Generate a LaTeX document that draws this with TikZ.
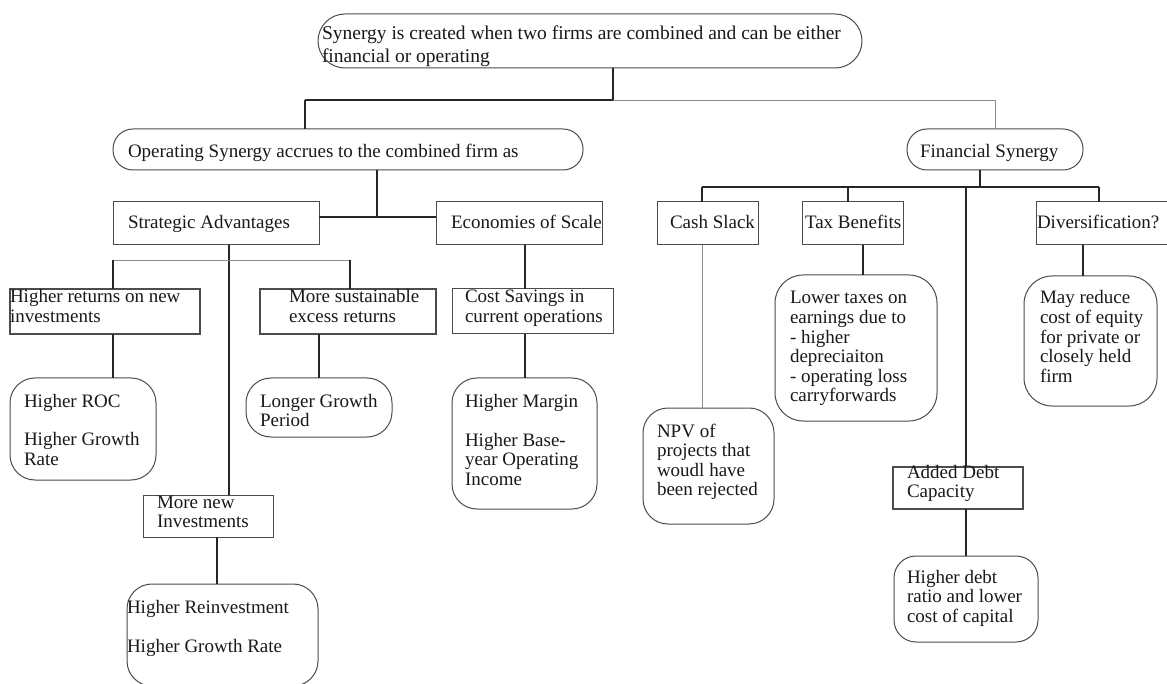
\documentclass[tikz,border=0pt]{standalone}
\usepackage{fontspec}
\setmainfont{Liberation Serif}
\begin{document}
\begin{tikzpicture}[x=1pt,y=-1pt,
  box/.style={draw=black!70,line width=1pt,inner sep=0pt,outer sep=0pt},
  sq/.style={box},
  pill/.style={box,rounded corners=20pt},
  rbox/.style={box,rounded corners=25pt},
  txt/.style={anchor=north west,inner sep=0pt,outer sep=0pt,align=left,
    font=\fontsize{19}{19.5}\selectfont,yshift=13.65pt,text=black!90},
  con/.style={draw=black!85,line width=1.3pt},
  thin/.style={draw=black!45,line width=0.9pt}]
\useasboundingbox (0,0) rectangle (1167,684);
\fill[white] (0,0) rectangle (1167,684);

% ---------- shapes ----------
\node[pill,rounded corners=27pt,minimum width=544pt,minimum height=54pt] (top) at (590,41) {};
\node[pill,minimum width=470pt,minimum height=41pt] (op) at (348,149.5) {};
\node[pill,minimum width=176pt,minimum height=41pt] (fin) at (995,149.5) {};

\node[sq,minimum width=206pt,minimum height=43pt] (sa) at (216,223.5) {};
\node[sq,minimum width=166pt,minimum height=43pt] (es) at (519,223.5) {};
\node[sq,minimum width=101pt,minimum height=43pt] (cash) at (707.5,223.5) {};
\node[sq,minimum width=101pt,minimum height=43pt] (tax) at (852.5,223.5) {};
\node[sq,minimum width=134pt,minimum height=43pt] (div) at (1103,223.5) {};

\node[sq,line width=1.4pt,minimum width=190pt,minimum height=45pt] (hr) at (105,311.5) {};
\node[sq,line width=1.4pt,minimum width=176pt,minimum height=45pt] (ms) at (348,311.5) {};
\node[sq,minimum width=161pt,minimum height=45pt] (cs) at (532.5,311.5) {};

\node[rbox,minimum width=146pt,minimum height=102pt] (roc) at (83,429) {};
\node[rbox,minimum width=146pt,minimum height=59pt] (lg) at (319,407.5) {};
\node[rbox,minimum width=145pt,minimum height=131pt] (hm) at (524.5,443.5) {};
\node[sq,minimum width=130pt,minimum height=42pt] (mn) at (208,516) {};
\node[rbox,minimum width=191pt,minimum height=102pt] (ri) at (222.5,635) {};

\node[rbox,minimum width=131pt,minimum height=116pt] (npv) at (708.5,466) {};
\node[rbox,rounded corners=28pt,minimum width=162pt,minimum height=146pt] (lt) at (856,348) {};
\node[rbox,rounded corners=28pt,minimum width=133pt,minimum height=130pt] (mr) at (1090.5,341) {};
\node[sq,line width=1.3pt,minimum width=130pt,minimum height=42pt] (ad) at (958,488) {};
\node[rbox,rounded corners=22pt,minimum width=144pt,minimum height=86pt] (hd) at (966,599) {};

% ---------- texts ----------
\node[txt,font=\fontsize{19.5}{23}\selectfont,yshift=2.45pt] (top-t) at (322,40)
  {\strut Synergy is created when two firms are combined and can be either\\financial or operating};
\node[txt] (op-t) at (128,158) {\strut Operating Synergy accrues to the combined firm as};
\node[txt] (fin-t) at (920,158) {\strut Financial Synergy};
\node[txt] (sa-t) at (128,229) {\strut Strategic Advantages};
\node[txt] (es-t) at (451,229) {\strut Economies of Scale};
\node[txt] (cash-t) at (670,229) {\strut Cash Slack};
\node[txt] (tax-t) at (805,229) {\strut Tax Benefits};
\node[txt] (div-t) at (1037,229) {\strut Diversification?};
\node[txt] (hr-t) at (10,303) {\strut Higher returns on new\\investments};
\node[txt] (ms-t) at (289,303) {\strut More sustainable\\excess returns};
\node[txt] (cs-t) at (465,303) {\strut Cost Savings in\\current operations};
\node[txt] (roc-t) at (24,407) {\strut Higher ROC\\[19pt]Higher Growth\\Rate};
\node[txt] (lg-t) at (260,407) {\strut Longer Growth\\Period};
\node[txt] (hm-t) at (465,407) {\strut Higher Margin\\[19.5pt]Higher Base-\\year Operating\\Income};
\node[txt] (mn-t) at (157,508) {\strut More new\\Investments};
\node[txt] (ri-t) at (127,613) {\strut Higher Reinvestment\\[19.5pt]Higher Growth Rate};
\node[txt] (npv-t) at (657,437) {\strut NPV of\\projects that\\woudl have\\been rejected};
\node[txt] (lt-t) at (790,304) {\strut Lower taxes on\\earnings due to\\- higher\\depreciaiton\\- operating loss\\carryforwards};
\node[txt] (mr-t) at (1040,304) {\strut May reduce\\cost of equity\\for private or\\closely held\\firm};
\node[txt] (ad-t) at (907,478) {\strut Added Debt\\Capacity};
\node[txt] (hd-t) at (907,583) {\strut Higher debt\\ratio and lower\\cost of capital};

% ---------- junctions ----------
\coordinate (jTop) at (613,100);
\coordinate (jL) at (305,100);
\coordinate (jR) at (995,100);
\coordinate (jOp) at (377,217);
\coordinate (jSA) at (229,260);
\coordinate (jH1) at (113,260);
\coordinate (jH2) at (350,260);
\coordinate (xMS) at (319,0);
\coordinate (xES) at (525,0);
\coordinate (xMN) at (217,0);
\coordinate (jF) at (980,187);
\coordinate (jF1) at (702,187);
\coordinate (jF2) at (848,187);
\coordinate (jF3) at (966,187);
\coordinate (jF4) at (1099,187);
\coordinate (xTX) at (863,0);
\coordinate (xDV) at (1083,0);

% ---------- connectors ----------
\draw[con] (top.south -| jTop) -- (jTop);
\draw[con] (jL) -- (jTop);
\draw[thin] (jTop) -- (jR);
\draw[con] (jL) -- (op.north -| jL);
\draw[thin] (jR) -- (fin.north);

\draw[con] (op.south -| jOp) -- (jOp);
\draw[con] (sa.east |- jOp) -- (es.west |- jOp);

\draw[con] (sa.south -| jSA) -- (mn.north -| jSA);
\draw[thin] (jH1) -- (jH2);
\draw[con] (jH1) -- (hr.north -| jH1);
\draw[con] (jH2) -- (ms.north -| jH2);
\draw[con] (hr.south -| jH1) -- (roc.north -| jH1);
\draw[con] (ms.south -| xMS) -- (lg.north -| xMS);
\draw[con] (es.south -| xES) -- (cs.north -| xES);
\draw[con] (cs.south -| xES) -- (hm.north -| xES);
\draw[con] (mn.south -| xMN) -- (ri.north -| xMN);

\draw[con] (fin.south -| jF) -- (jF);
\draw[con] (jF1) -- (jF4);
\draw[con] (jF1) -- (cash.north -| jF1);
\draw[con] (jF2) -- (tax.north -| jF2);
\draw[con] (jF4) -- (div.north -| jF4);
\draw[con] (jF3) -- (ad.north -| jF3);
\draw[thin] (cash.south -| jF1) -- (npv.north -| jF1);
\draw[con] (tax.south -| xTX) -- (lt.north -| xTX);
\draw[con] (div.south -| xDV) -- (mr.north -| xDV);
\draw[con] (ad.south -| jF3) -- (hd.north -| jF3);
\end{tikzpicture}
\end{document}
